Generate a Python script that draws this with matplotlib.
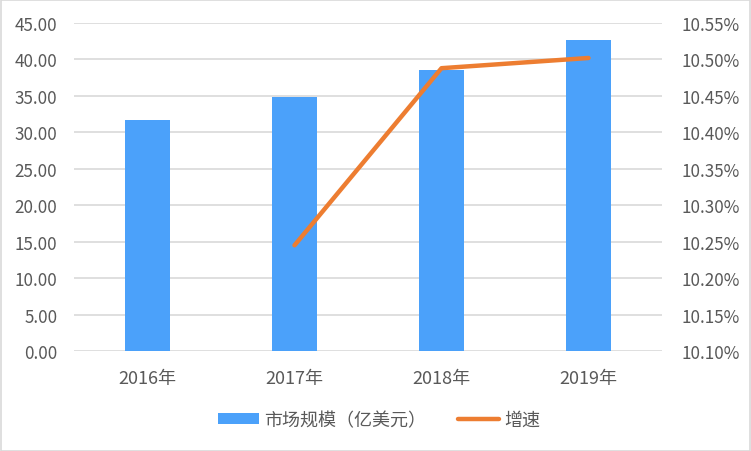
import matplotlib
matplotlib.use("Agg")
import matplotlib.pyplot as plt
from matplotlib.ticker import FuncFormatter, MultipleLocator
from matplotlib.patches import Rectangle

plt.rcParams['font.family'] = ['Noto Sans CJK SC', 'DejaVu Sans']

categories = ["2016年", "2017年", "2018年", "2019年"]
market_size = [31.7, 34.9, 38.55, 42.62]
growth_cats = ["2017年", "2018年", "2019年"]
growth_rate = [10.245, 10.488, 10.502]

text_color = "#595959"
bar_color = "#4BA1FA"
line_color = "#ED7D31"
grid_color = "#D9D9D9"

W, H = 751, 452
fig = plt.figure(figsize=(W / 100, H / 100), dpi=100)
fig.patches.append(Rectangle((0.5 / W, 0.5 / H), 1 - 1.5 / W, 1 - 1.5 / H,
                             transform=fig.transFigure, fill=False,
                             edgecolor="#D9D9D9", linewidth=1.2))

ax = fig.add_axes([74 / W, (H - 352) / H, (662 - 74) / W, (352 - 24) / H])
x = list(range(len(categories)))
bars = ax.bar(x, market_size, width=0.31, color=bar_color, zorder=2,
              label="市场规模（亿美元）")
ax.set_xlim(-0.5, len(categories) - 0.5)
ax.set_ylim(0, 45)
ax.yaxis.set_major_locator(MultipleLocator(5))
ax.yaxis.set_major_formatter(FuncFormatter(lambda v, p: f"{v:.2f}"))
ax.set_xticks(x)
ax.set_xticklabels(categories)
ax.grid(axis="y", color=grid_color, linewidth=1.2, zorder=0)
for s in ax.spines.values():
    s.set_visible(False)
ax.tick_params(axis="both", length=0, colors=text_color, labelsize=12.3)
ax.tick_params(axis="x", pad=13, labelsize=13)
ax.tick_params(axis="y", pad=12)

ax2 = ax.twinx()
gx = [categories.index(c) for c in growth_cats]
line, = ax2.plot(gx, growth_rate, color=line_color, linewidth=3.2,
                 solid_capstyle="round", solid_joinstyle="round", zorder=3,
                 label="增速")
ax2.set_ylim(10.10, 10.55)
ax2.yaxis.set_major_locator(MultipleLocator(0.05))
ax2.yaxis.set_major_formatter(FuncFormatter(lambda v, p: f"{v:.2f}%"))
for s in ax2.spines.values():
    s.set_visible(False)
ax2.tick_params(axis="y", length=0, colors=text_color, labelsize=12.3, pad=14)

leg = fig.legend([bars, line], ["市场规模（亿美元）", "增速"], loc="center",
                 bbox_to_anchor=(379 / W, 1 - 421 / H), ncol=2, frameon=False,
                 fontsize=13, handlelength=2.25, handleheight=0.55,
                 columnspacing=1.8, handletextpad=0.28)
for t in leg.get_texts():
    t.set_color(text_color)

fig.savefig("out.png", dpi=100)
